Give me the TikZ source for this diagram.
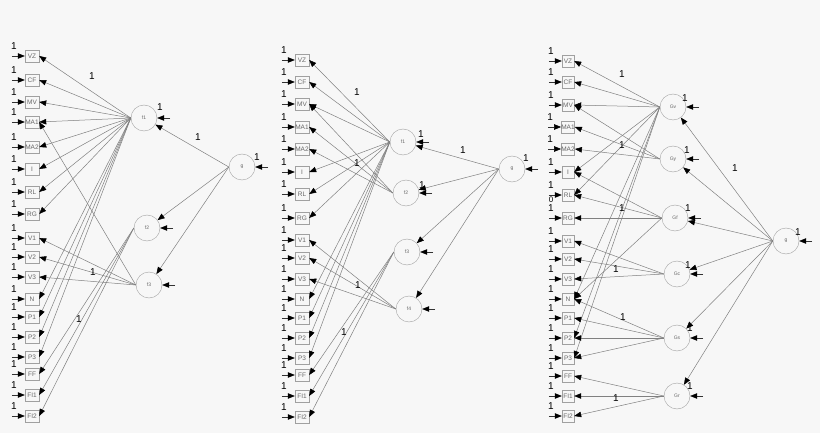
\documentclass[tikz,border=0pt]{standalone}
\usepackage{fontspec}
\setmainfont{Liberation Sans}
\usetikzlibrary{positioning, calc, arrows.meta}

\definecolor{bgc}{HTML}{F7F7F7}
\definecolor{edgec}{HTML}{808080}
\definecolor{boxc}{HTML}{A0A0A0}

\tikzset{
	ind/.style={shape=rectangle, draw=boxc, fill=bgc, minimum width=14pt, minimum height=12pt, inner sep=0pt, text=black!60, font=\fontsize{6.5}{6.5}\selectfont},
	lat/.style={shape=circle, draw=boxc, fill=bgc, minimum size=26pt, inner sep=0pt, text=black!60, font=\fontsize{5}{5}\selectfont},
	load/.style={draw=edgec, line width=0.5pt, -{Triangle[length=7pt, width=5.5pt, color=black]}},
	res/.style={draw=black!80, line width=0.5pt, -{Triangle[length=7pt, width=5.5pt, color=black]}},
	one/.style={inner sep=0pt, font=\fontsize{10}{10}\selectfont}
}

\begin{document}
\begin{tikzpicture}[x=1pt, y=-1pt]
	\fill[bgc] (0,0) rectangle (820,433);
	\useasboundingbox (0,0) rectangle (820,433);

	% left model
	\foreach \n/\y in {VZ/56,CF/80,MV/102,MA1/122,MA2/147,I/169,RL/192,RG/214,V1/238,V2/257,V3/277,N/299,P1/317,P2/337,P3/357,FF/374,FI1/395,FI2/416}{
		\node[ind] (a\n) at (32,\y) {\n};
		\coordinate (ae\n) at ($(a\n.west)+(-13,0)$);
		\draw[res] (ae\n) -- (a\n.west);
		\node[one] (ao\n) at ($(ae\n)+(2,-10)$) {1};
	}
	\node[lat] (af1) at (144,118) {f1};
	\node[lat] (af2) at (147,228) {f2};
	\node[lat] (af3) at (149,285) {f3};
	\node[lat] (ag) at (242,167) {g};
	\foreach \f in {f1,f2,f3,g}{
		\coordinate (ae\f) at ($(a\f.east)+(13,0)$);
		\draw[res] (ae\f) -- (a\f.east);
	}
	\foreach \n in {VZ,CF,MV,MA1,MA2,I,RL,RG,N,P1,P2,P3} \draw[load] (af1.west) -- (a\n.east);
	\foreach \n in {FF,FI1,FI2} \draw[load] (af2.west) -- (a\n.east);
	\foreach \n in {MA1,V1,V2,V3} \draw[load] (af3.west) -- (a\n.east);
	\foreach \f in {f1,f2,f3} \draw[load] (ag.west) -- (a\f);
	\node[one] (aof1) at (160,107) {1};
	\node[one] (aog) at (257,157) {1};
	\node[one] (al1) at (92,76) {1};
	\node[one] (al2) at (198,137) {1};
	\node[one] (al3) at (93,272) {1};
	\node[one] (al4) at (79,319) {1};

	% middle model
	\foreach \n/\y in {VZ/60,CF/82,MV/104,MA1/127,MA2/149,I/172,RL/194,RG/218,V1/240,V2/258,V3/279,N/299,P1/318,P2/338,P3/358,FF/375,FI1/396,FI2/417}{
		\node[ind] (b\n) at (302,\y) {\n};
		\coordinate (be\n) at ($(b\n.west)+(-13,0)$);
		\draw[res] (be\n) -- (b\n.west);
		\node[one] (bo\n) at ($(be\n)+(2,-10)$) {1};
	}
	\node[lat] (bf1) at (403,142) {f1};
	\node[lat] (bf2) at (406,193) {f2};
	\node[lat] (bf3) at (407,252) {f3};
	\node[lat] (bf4) at (409,309) {f4};
	\node[lat] (bg) at (512,169) {g};
	\foreach \f in {f1,f2,f3,f4,g}{
		\coordinate (be\f) at ($(b\f.east)+(13,0)$);
		\draw[res] (be\f) -- (b\f.east);
	}
	\foreach \n in {VZ,CF,MV,I,RL,RG,N,P1,P2,P3} \draw[load] (bf1.west) -- (b\n.east);
	\foreach \n in {MV,MA1,MA2} \draw[load] (bf2.west) -- (b\n.east);
	\foreach \n in {FF,FI1,FI2} \draw[load] (bf3.west) -- (b\n.east);
	\foreach \n in {V1,V2,V3} \draw[load] (bf4.west) -- (b\n.east);
	\foreach \f in {f1,f2,f3,f4} \draw[load] (bg.west) -- (b\f);
	\node[one] (bof1) at (421,134) {1};
	\node[one] (bof2) at (422,185) {1};
	\node[one] (bog) at (526,158) {1};
	\node[one] (bl1) at (357,92) {1};
	\node[one] (bl2) at (463,150) {1};
	\node[one] (bl3) at (357,163) {1};
	\node[one] (bl4) at (358,285) {1};
	\node[one] (bl5) at (344,332) {1};

	% right model
	\foreach \n/\y in {VZ/61,CF/82,MV/105,MA1/127,MA2/149,I/172,RL/195,RG/218,V1/241,V2/259,V3/279,N/299,P1/318,P2/338,P3/358,FF/376,FI1/396,FI2/416}{
		\node[ind, minimum width=12pt] (c\n) at (568,\y) {\n};
		\coordinate (ce\n) at ($(c\n.west)+(-13,0)$);
		\draw[res] (ce\n) -- (c\n.west);
		\node[one] (co\n) at ($(ce\n)+(2,-10)$) {1};
	}
	\node[one, font=\fontsize{8}{8}\selectfont] (czero) at (551,200) {0};
	\node[lat] (cGv) at (673,107) {Gv};
	\node[lat] (cGy) at (673,159) {Gy};
	\node[lat] (cGf) at (675,218) {Gf};
	\node[lat] (cGc) at (677,274) {Gc};
	\node[lat] (cGs) at (677,338) {Gs};
	\node[lat] (cGr) at (677,396) {Gr};
	\node[lat] (cg) at (786,241) {g};
	\foreach \f in {Gv,Gy,Gf,Gc,Gs,Gr,g}{
		\coordinate (ce\f) at ($(c\f.east)+(13,0)$);
		\draw[res] (ce\f) -- (c\f.east);
	}
	\foreach \n in {VZ,CF,MV,I,RL,N,P2,P3} \draw[load] (cGv.west) -- (c\n.east);
	\foreach \n in {MV,MA1,MA2} \draw[load] (cGy.west) -- (c\n.east);
	\foreach \n in {I,RL,RG,N} \draw[load] (cGf.west) -- (c\n.east);
	\foreach \n in {V1,V2,V3} \draw[load] (cGc.west) -- (c\n.east);
	\foreach \n in {N,P1,P2,P3} \draw[load] (cGs.west) -- (c\n.east);
	\foreach \n in {FF,FI1,FI2} \draw[load] (cGr.west) -- (c\n.east);
	\foreach \f in {Gv,Gy,Gf,Gc,Gs,Gr} \draw[load] (cg.west) -- (c\f);
	\node[one] (coGv) at (685,98) {1};
	\node[one] (coGy) at (687,150) {1};
	\node[one] (coGf) at (688,208) {1};
	\node[one] (coGc) at (688,265) {1};
	\node[one] (coGs) at (690,328) {1};
	\node[one] (coGr) at (690,386) {1};
	\node[one] (cog) at (798,232) {1};
	\node[one] (cl1) at (622,74) {1};
	\node[one] (cl2) at (622,145) {1};
	\node[one] (cl3) at (622,208) {1};
	\node[one] (cl4) at (616,269) {1};
	\node[one] (cl5) at (623,317) {1};
	\node[one] (cl6) at (616,398) {1};
	\node[one] (cl7) at (735,168) {1};
\end{tikzpicture}
\end{document}
